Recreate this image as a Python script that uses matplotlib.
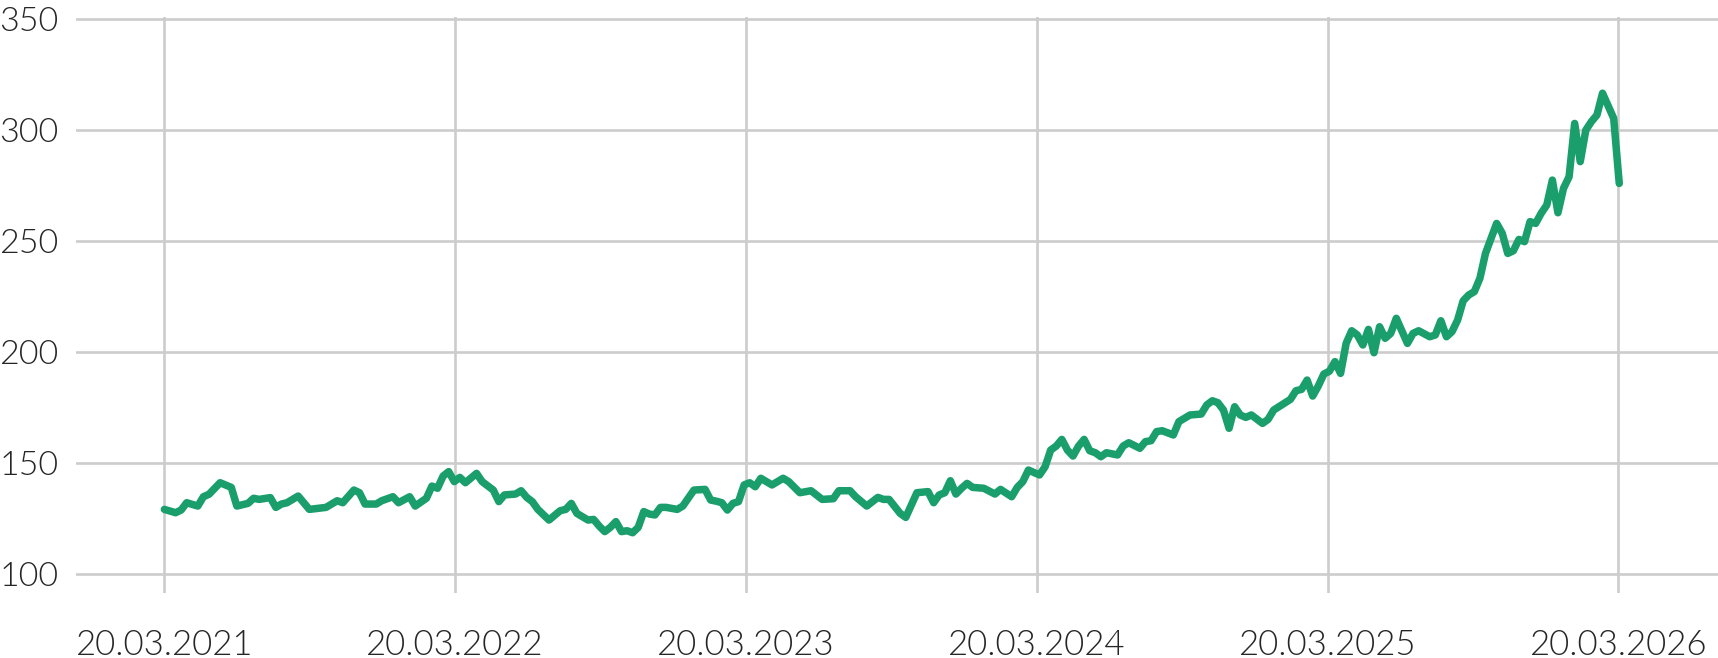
import numpy as np
import pandas as pd
import matplotlib
matplotlib.use("Agg")
import matplotlib.pyplot as plt

plt.rcParams['font.family'] = ['Lato', 'DejaVu Sans']

start_date = "2021-03-20"

weeks = [0, 2, 3, 4, 6, 7, 8, 10, 12, 13, 15, 16, 17, 19, 20, 21, 22, 24, 26, 29,
         31, 32, 34, 35, 36, 38, 39, 41, 42, 44, 45, 47, 48, 49, 50, 51, 52, 53, 54, 56,
         57, 59, 60, 61, 63, 64, 65, 66, 67, 69, 71, 72, 73, 74, 75, 76, 77, 78, 79, 80,
         81, 82, 83, 84, 85, 86, 87, 88, 89, 90, 92, 93, 95, 97, 98, 99, 100, 101, 102, 103,
         104, 105, 106, 107, 108, 109, 111, 112, 114, 116, 118, 120, 121, 123, 124, 126, 128, 129, 130, 132,
         133, 135, 137, 138, 139, 140, 141, 142, 143, 144, 145, 147, 149, 150, 152, 153, 154, 155, 157, 158,
         159, 160, 161, 162, 163, 164, 165, 166, 167, 168, 169, 171, 172, 173, 175, 176, 177, 178, 179, 181,
         182, 184, 186, 187, 188, 189, 190, 191, 192, 193, 194, 195, 197, 198, 199, 202, 203, 204, 205, 206,
         207, 208, 209, 210, 211, 212, 213, 214, 215, 216, 217, 218, 219, 220, 221, 222, 223, 224, 225, 227,
         228, 229, 230, 231, 232, 233, 234, 235, 236, 237, 239, 240, 241, 242, 243, 244, 245, 246, 247, 248,
         249, 250, 251, 252, 253, 254, 255, 256, 257, 258, 260, 261]

values = [129.3, 127.8, 129.0, 132.3, 130.8, 135.0, 136.1, 141.3, 139.2, 130.8, 132.0, 134.3, 133.8, 134.6, 130.2, 131.7, 132.3, 135.3, 129.3, 130.2,
          133.2, 132.3, 138.0, 136.8, 131.7, 131.7, 133.2, 135.0, 132.3, 135.0, 130.8, 134.3, 139.8, 138.8, 144.3, 146.3, 141.8, 143.7, 141.3, 145.5,
          141.8, 138.0, 132.8, 135.8, 136.2, 137.7, 134.7, 132.8, 129.3, 124.5, 128.7, 129.3, 132.0, 127.5, 126.0, 124.5, 124.8, 121.8, 119.3, 121.2,
          123.8, 119.3, 119.7, 118.8, 121.2, 128.3, 127.2, 126.8, 130.2, 130.2, 129.3, 130.8, 138.0, 138.3, 133.5, 133.0, 132.3, 129.0, 132.0, 132.8,
          140.3, 141.3, 139.5, 143.3, 141.8, 140.3, 143.3, 141.8, 136.8, 137.7, 133.8, 134.1, 137.7, 137.7, 135.0, 130.8, 134.7, 133.8, 133.8, 127.5,
          125.7, 136.8, 137.3, 132.3, 135.8, 136.8, 142.2, 136.2, 138.8, 141.0, 139.2, 138.8, 136.2, 138.3, 135.0, 139.2, 141.8, 147.0, 144.8, 148.5,
          156.0, 157.8, 160.8, 156.0, 153.3, 157.8, 160.8, 155.7, 154.8, 153.0, 154.8, 153.8, 157.8, 159.3, 156.8, 159.8, 160.2, 164.3, 164.7, 162.8,
          168.8, 171.8, 172.2, 176.3, 178.2, 177.3, 174.0, 165.8, 175.5, 171.8, 170.7, 171.8, 168.0, 169.8, 174.0, 178.8, 182.7, 183.3, 187.5, 180.3,
          184.8, 190.2, 191.5, 195.8, 190.5, 204.0, 209.7, 207.8, 203.3, 210.3, 199.8, 211.5, 206.3, 208.5, 215.3, 209.7, 204.0, 208.5, 209.7, 207.0,
          207.8, 214.2, 207.0, 209.3, 214.5, 223.2, 225.8, 227.3, 233.3, 244.5, 258.0, 253.6, 244.5, 245.7, 250.8, 249.8, 258.8, 258.0, 262.6, 266.3,
          277.5, 262.8, 273.8, 279.0, 303.0, 285.8, 300.0, 303.8, 306.8, 316.6, 305.3, 276.0]

y_ticks = [100, 150, 200, 250, 300, 350]
x_tick_labels = ["20.03.2021", "20.03.2022", "20.03.2023", "20.03.2024", "20.03.2025", "20.03.2026"]

dates = pd.Timestamp(start_date) + pd.to_timedelta(np.array(weeks) * 7, unit="D")
x_ticks = pd.to_datetime(x_tick_labels, format="%d.%m.%Y")

W, H = 1718, 658
fig = plt.figure(figsize=(W / 100, H / 100), dpi=100)
ax_left, ax_right = 76 / W, 1.0
ax_top_px, ax_bot_px = 17, 593
ax = fig.add_axes([ax_left, 1 - ax_bot_px / H, ax_right - ax_left, (ax_bot_px - ax_top_px) / H])

grid_c = "#cccccc"
text_c = "#262626"

ax.plot(dates, values, color="#1a9e6b", lw=5.4, solid_joinstyle="round",
        solid_capstyle="round", zorder=3)

ax.set_ylim(91.67, 350.9)
x0 = pd.Timestamp(start_date) - pd.Timedelta(days=111)
x1 = pd.Timestamp(start_date) + pd.Timedelta(days=1951)
ax.set_xlim(x0, x1)

ax.set_yticks(y_ticks)
ax.set_yticklabels([str(v) for v in y_ticks])
ax.set_xticks(x_ticks)
ax.set_xticklabels(x_tick_labels)

for s in ax.spines.values():
    s.set_visible(False)
ax.grid(True, color=grid_c, lw=1.9, zorder=0)
ax.set_axisbelow(True)
ax.tick_params(axis="both", length=0, labelcolor=text_c)
ax.tick_params(axis="x", labelsize=25, pad=26)
ax.tick_params(axis="y", labelsize=24.5, pad=12.5)
for lab in ax.get_xticklabels() + ax.get_yticklabels():
    lab.set_fontweight(300)

fig.savefig("out.png", dpi=100)
